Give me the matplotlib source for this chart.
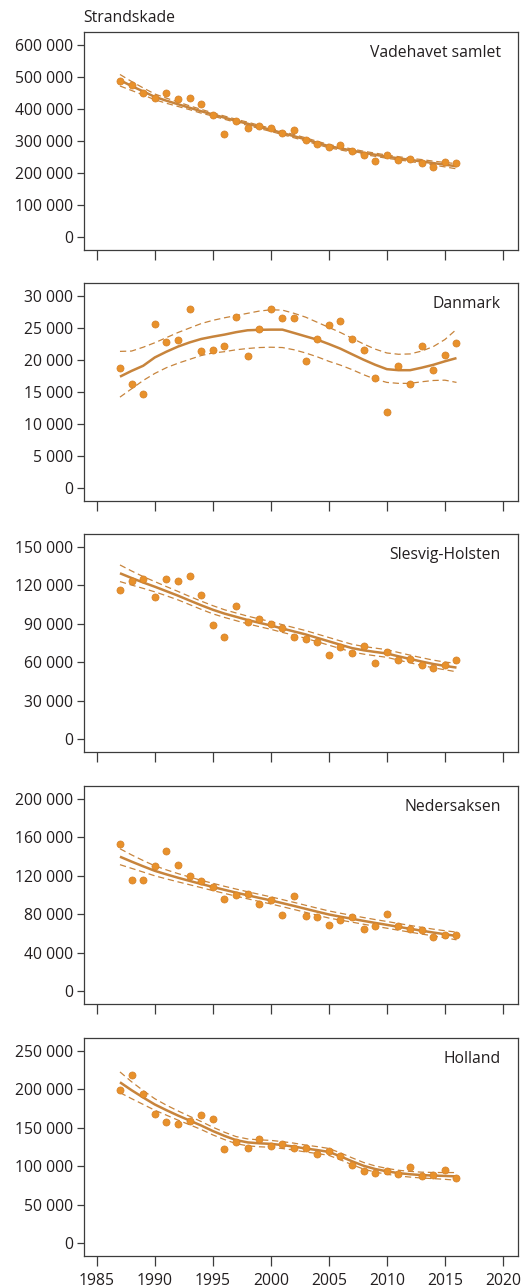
import matplotlib
matplotlib.use("Agg")
import matplotlib.pyplot as plt
from matplotlib.ticker import FuncFormatter, MultipleLocator

plt.rcParams['font.family'] = ['Open Sans', 'DejaVu Sans']

years = list(range(1987, 2017))

# ---- Vadehavet samlet ----
vad_obs = [488000, 476400, 451300, 435600, 451300, 431400, 435600, 416700, 382200, 321500,
           363300, 339300, 345500, 339300, 323600, 334000, 301600, 292100, 280600, 286900,
           270200, 255500, 237700, 255500, 239800, 244000, 230400, 217800, 233500, 230400]
vad_trend = [490000, 472000, 455000, 438000, 426000, 415000, 404000, 393000, 383000, 373000,
             363000, 354000, 344000, 335000, 325000, 315000, 305000, 294000, 284000, 277000,
             270000, 263000, 257000, 251000, 246000, 241000, 236000, 231000, 226000, 221000]
vad_upper = [508000, 486000, 466000, 447000, 434000, 422000, 410000, 399000, 388000, 378000,
             368000, 359000, 349000, 340000, 330000, 320000, 310000, 299000, 289000, 282000,
             275000, 268000, 262000, 256000, 251000, 246000, 242000, 237000, 233000, 229000]
vad_lower = [472000, 458000, 444000, 429000, 418000, 408000, 398000, 387000, 378000, 368000,
             358000, 349000, 339000, 330000, 320000, 310000, 300000, 289000, 279000, 272000,
             265000, 258000, 252000, 246000, 241000, 236000, 230000, 225000, 219000, 213000]

# ---- Danmark ----
dk_obs = [18830, 16260, 14630, 25650, 22870, 23080, 28010, 21400, 21560, 22130,
          26750, 20670, 24910, 28010, 26540, 26540, 19770, 23240, 25440, 26170,
          23240, 21610, 17200, 11850, 19040, 16260, 22130, 18460, 20820, 22710]
dk_trend = [17400, 18300, 19100, 20400, 21300, 22100, 22750, 23290, 23650, 23970,
            24350, 24650, 24720, 24750, 24750, 24230, 23700, 23180, 22500, 21770,
            20900, 20040, 19250, 18570, 18410, 18410, 18800, 19250, 19800, 20300]
dk_upper = [21350, 21400, 22000, 22700, 23500, 24300, 25000, 25700, 26200, 26600,
            26950, 27300, 27650, 27850, 27800, 27300, 26700, 25900, 25100, 24300,
            23400, 22500, 21700, 21100, 20900, 20950, 21400, 22100, 23200, 24800]
dk_lower = [14200, 15500, 16800, 17900, 18800, 19500, 20100, 20700, 21100, 21300,
            21600, 21800, 21950, 22000, 21950, 21600, 21100, 20500, 19800, 19200,
            18500, 17700, 17000, 16500, 16350, 16350, 16600, 16800, 16850, 16500]

# ---- Slesvig-Holsten ----
sh_obs = [116800, 123700, 124700, 111050, 124700, 123700, 127400, 112900, 88700, 80000,
          104200, 91300, 93400, 89700, 86600, 79700, 77900, 76050, 65500, 72100,
          67400, 72900, 59500, 68200, 61600, 62400, 57600, 55500, 57600, 61600]
sh_trend = [129500, 125800, 122300, 119000, 115500, 112000, 108200, 104500, 101000, 98000,
            95500, 93000, 90800, 88700, 86300, 84000, 81700, 79000, 76300, 73600,
            71000, 69300, 68000, 66800, 64600, 62500, 60500, 58600, 57100, 55800]
sh_upper = [136000, 131300, 126900, 123000, 119100, 115300, 111400, 107700, 104200, 101000,
            98500, 96000, 93800, 91700, 89300, 87000, 84700, 82000, 79300, 76600,
            74000, 72300, 71000, 69800, 67600, 65500, 63500, 61600, 60100, 59100]
sh_lower = [123000, 120300, 117700, 115000, 111900, 108700, 105000, 101300, 97800, 95000,
            92500, 90000, 87800, 85700, 83300, 81000, 78700, 76000, 73300, 70600,
            68000, 66300, 65000, 63800, 61600, 59500, 57500, 55600, 54100, 52500]

# ---- Nedersaksen ----
ns_obs = [153100, 116100, 116100, 130100, 145500, 131500, 120300, 114700, 108400, 96200,
          99650, 100700, 90900, 95100, 79000, 99300, 78000, 76600, 68900, 74100,
          76900, 64300, 67800, 79700, 67800, 64300, 63300, 56600, 58000, 58000]
ns_trend = [139900, 134800, 129900, 125200, 121500, 118000, 114700, 111500, 108400, 105400,
            102500, 99700, 97000, 94400, 91500, 88600, 85600, 82600, 79700, 77400,
            75200, 73000, 70900, 68900, 66800, 64800, 62800, 60900, 59100, 57300]
ns_upper = [148200, 141800, 135900, 130400, 126200, 122300, 118700, 115300, 112200, 109100,
            106200, 103400, 100700, 98100, 95200, 92300, 89300, 86300, 83400, 81000,
            78700, 76500, 74400, 72400, 70300, 68300, 66300, 64400, 62800, 61300]
ns_lower = [131600, 127800, 123900, 120000, 116800, 113700, 110700, 107700, 104600, 101700,
            98800, 96000, 93300, 90700, 87800, 84900, 81900, 78900, 76000, 73800,
            71700, 69500, 67400, 65400, 63300, 61300, 59300, 57400, 55400, 53300]

# ---- Holland ----
nl_obs = [199600, 219300, 193900, 167700, 157200, 154500, 159400, 166800, 162000, 123000,
          131800, 124300, 134800, 126100, 128700, 124300, 124300, 116500, 120000, 113800,
          101600, 94100, 91100, 94100, 89300, 98900, 86700, 88000, 94600, 84900]
nl_trend = [209300, 199000, 189500, 180400, 173000, 166000, 159500, 153000, 145800, 139500,
            134000, 131000, 129800, 129100, 127500, 125500, 123000, 121000, 118600, 112800,
            106400, 100500, 96300, 93300, 91000, 89500, 88400, 87800, 87300, 86700]
nl_upper = [222800, 210000, 198500, 187900, 179500, 172000, 165000, 158200, 150800, 144300,
            138600, 135500, 134300, 133600, 132000, 130000, 127500, 125500, 123100, 117300,
            110900, 104800, 100300, 97100, 94700, 93200, 92200, 91800, 91700, 91700]
nl_lower = [195800, 188000, 180500, 172900, 166500, 160000, 154000, 147800, 140800, 134700,
            129400, 126500, 125300, 124600, 123000, 121000, 118500, 116500, 114100, 108300,
            101900, 96200, 92300, 89500, 87300, 85800, 84600, 83800, 82900, 81700]

panel_names = ["Vadehavet samlet", "Danmark", "Slesvig-Holsten", "Nedersaksen", "Holland"]
y_steps = [100000, 5000, 30000, 40000, 50000]
y_max = [600000, 30000, 150000, 200000, 250000]
x_ticks = [1985, 1990, 1995, 2000, 2005, 2010, 2015, 2020]

panels = [
    (vad_obs, vad_trend, vad_upper, vad_lower),
    (dk_obs, dk_trend, dk_upper, dk_lower),
    (sh_obs, sh_trend, sh_upper, sh_lower),
    (ns_obs, ns_trend, ns_upper, ns_lower),
    (nl_obs, nl_trend, nl_upper, nl_lower),
]

W, H = 525, 1288
fig = plt.figure(figsize=(W / 100, H / 100), dpi=100)

text_col = "#231f20"
spine_col = "#3c3c3c"
dot_col = "#e8912b"
dot_edge = "#d4812a"
line_col = "#c7843c"

tops_px = [32, 283, 534, 786, 1038]
ax_h_px = 218
left_px, right_px = 84, 518

fmt = FuncFormatter(lambda v, p: f"{int(round(v)):,}".replace(",", " "))

for i, (obs, trend, upper, lower) in enumerate(panels):
    top = tops_px[i]
    ax = fig.add_axes([left_px / W, 1 - (top + ax_h_px) / H, (right_px - left_px) / W, ax_h_px / H])
    ax.plot(years, upper, color=line_col, lw=0.9, dashes=(5, 3), zorder=2)
    ax.plot(years, lower, color=line_col, lw=0.9, dashes=(5, 3), zorder=2)
    ax.plot(years, trend, color=line_col, lw=1.8, zorder=3, solid_capstyle='butt')
    ax.scatter(years, obs, s=26, color=dot_col, edgecolors=dot_edge, linewidths=0.5, zorder=4)

    ymax = y_max[i]
    margin = ymax * 0.068
    ax.set_ylim(-margin, ymax + margin)
    ax.yaxis.set_major_locator(MultipleLocator(y_steps[i]))
    ax.yaxis.set_major_formatter(fmt)
    ax.set_xlim(1983.9, 2021.3)
    ax.set_xticks(x_ticks)
    if i == 4:
        ax.set_xticklabels([str(t) for t in x_ticks])
    else:
        ax.set_xticklabels([])

    for s in ax.spines.values():
        s.set_color(spine_col)
        s.set_linewidth(0.9)
    ax.tick_params(axis='y', direction='out', length=5, width=0.9, color=spine_col,
                   labelsize=11.3, labelcolor=text_col, pad=3)
    ax.tick_params(axis='x', direction='out', length=7, width=0.9, color=spine_col,
                   labelsize=11.3, labelcolor=text_col, pad=5)

    ax.text(0.96, 0.905, panel_names[i], transform=ax.transAxes, ha='right', va='center',
            fontsize=11.3, color=text_col)

fig.text(83 / W, 1 - 18 / H, "Strandskade", ha='left', va='center', fontsize=11.3, color=text_col)

fig.savefig("out.png", dpi=100)
